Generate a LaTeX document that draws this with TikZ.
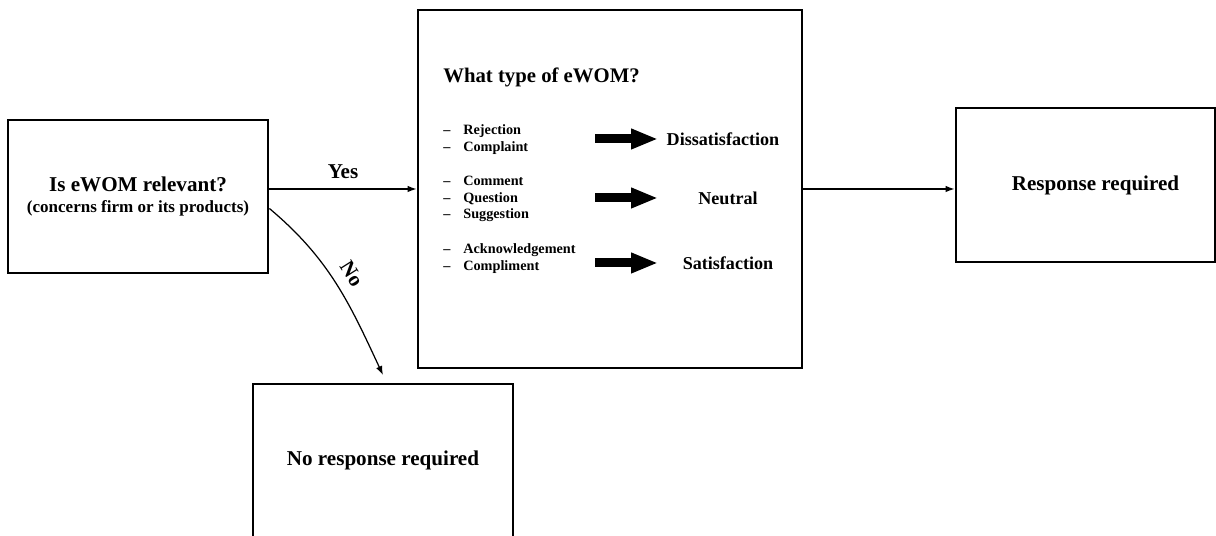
\documentclass[tikz,border=0pt]{standalone}
\usepackage{fontspec}
\setmainfont{Liberation Serif}
\usetikzlibrary{positioning, arrows.meta}
\newcommand{\listdash}[1]{\makebox[0.4cm][l]{\textendash}#1}

\begin{document}
\begin{tikzpicture}[
  box/.style={rectangle, draw, line width=1.6pt, minimum width=5.2cm, minimum height=3.06cm, align=center, font=\bfseries\fontsize{12}{14}\selectfont},
  item/.style={align=left, anchor=west, inner sep=0pt, font=\bfseries\fontsize{8.1}{9.6}\selectfont},
  outcome/.style={font=\bfseries\fontsize{10.3}{12}\selectfont},
  bigarrow/.style={line width=0.18cm, -{Triangle[length=0.54cm, width=0.38cm]}},
  flow/.style={line width=0.7pt, -{Latex[length=1.8mm, width=1.3mm]}}
]
\useasboundingbox (0,0) rectangle (24.32,10.72);

\node[box] (relevant) at (2.76,6.79) {Is eWOM relevant?\\[-2.5pt]{\fontsize{9.7}{11}\selectfont (concerns firm or its products)}};
\node[box, minimum width=7.68cm, minimum height=7.16cm] (type) at (12.2,6.94) {};
\node[box, minimum width=5.18cm, minimum height=3.08cm] (respond) at (21.71,7.02) {\hspace*{0.4cm}Response required};
\node[box] (norespond) at (7.66,1.51) {No response required};

% inside the eWOM type box
\node[anchor=west, inner sep=0pt, font=\bfseries\fontsize{11.8}{14}\selectfont] (title) at (8.86,9.18) {What type of eWOM?};
\node[item] (neg) at (8.86,7.93) {\listdash{Rejection}\\\listdash{Complaint}};
\node[item] (neu) at (8.86,6.74) {\listdash{Comment}\\\listdash{Question}\\\listdash{Suggestion}};
\node[item] (pos) at (8.86,5.54) {\listdash{Acknowledgement}\\\listdash{Compliment}};
\node[outcome] (dissat) at (14.46,7.94) {Dissatisfaction};
\node[outcome] (neutral) at (14.56,6.76) {Neutral};
\node[outcome] (sat) at (14.56,5.46) {Satisfaction};
\coordinate (arrstart) at (11.9,0);
\coordinate (arrend) at (13.16,0);
\draw[bigarrow] (dissat -| arrstart) -- (dissat -| arrend);
\draw[bigarrow] (neutral -| arrstart) -- (neutral -| arrend);
\draw[bigarrow] (sat -| arrstart) -- (sat -| arrend);

\draw[flow] (relevant.east |- type.west) -- (type.west) node[midway, above=0.08cm, font=\bfseries\fontsize{12}{14}\selectfont] {Yes};
\draw[flow] (type.east) -- (type.east -| respond.west);
\draw[flow] ([yshift=-0.24cm]relevant.east) to[out=-40, in=115] node[pos=0.5, sloped, above=3pt, font=\bfseries\fontsize{12}{14}\selectfont] {No} ([yshift=0.15cm]norespond.north);
\end{tikzpicture}
\end{document}
